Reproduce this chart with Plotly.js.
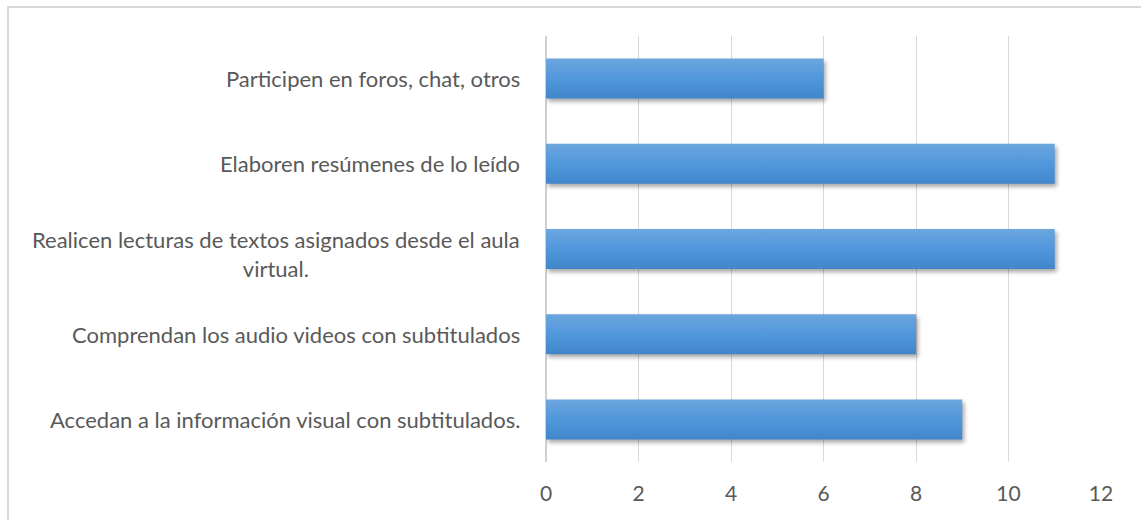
<!DOCTYPE html>
<html>
<head>
<meta charset="utf-8">
<script src="https://cdn.plot.ly/plotly-3.0.1.min.js"></script>
<style>
  html, body { margin: 0; padding: 0; background: #fff; }
  #chart { width: 1141px; height: 520px; position: relative; }
  #frame { position: absolute; left: 7px; top: 6px; width: 1300px; height: 700px;
           border: 2px solid #d9d9d9; pointer-events: none; box-sizing: border-box; }
  .barlayer path { fill: url(#barGrad) !important; filter: drop-shadow(2px 3px 2px rgba(0,0,0,0.35)); }
</style>
</head>
<body>
<div id="chart"></div>
<div id="frame"></div>
<script>
const categories = [
  "Accedan a la información visual con subtitulados.",
  "Comprendan los audio videos con subtitulados",
  "Realicen lecturas de textos asignados desde el aula<br>virtual.",
  "Elaboren resúmenes de lo leído",
  "Participen en foros, chat, otros"
];
const values = [9, 8, 11, 11, 6];
const tickValues = [0, 2, 4, 6, 8, 10, 12];

const fontFamily = "Lato, 'Open Sans', sans-serif";

const trace = {
  type: 'bar',
  orientation: 'h',
  x: values,
  y: categories,
  marker: { color: '#5597d9' },
  hoverinfo: 'x+y'
};

const annotations = categories.map(c => ({
  xref: 'paper', yref: 'y', x: 0, y: c, xshift: -24,
  yshift: c.includes('<br>') ? -5 : 0,
  xanchor: 'right', yanchor: 'middle', align: 'center',
  text: c, showarrow: false,
  font: { family: fontFamily, size: 22, color: '#595959' }
}));

const layout = {
  width: 1141, height: 520,
  margin: { l: 546, r: 40, t: 36, b: 58 },
  paper_bgcolor: '#ffffff', plot_bgcolor: '#ffffff',
  showlegend: false,
  bargap: 0.53,
  xaxis: {
    range: [0, 12], tickvals: tickValues, ticktext: tickValues.map(String),
    showgrid: true, gridcolor: '#d9d9d9', gridwidth: 1,
    zeroline: true, zerolinecolor: '#cfcfcf', zerolinewidth: 2,
    ticks: 'outside', ticklen: 13, tickcolor: 'rgba(0,0,0,0)',
    tickfont: { family: fontFamily, size: 21, color: '#595959' },
    showline: false, fixedrange: true
  },
  yaxis: {
    type: 'category', categoryorder: 'array', categoryarray: categories,
    showticklabels: false, showgrid: false, zeroline: false, showline: false,
    ticks: '', fixedrange: true
  },
  annotations: annotations
};

function applyGradient() {
  const svg = document.querySelector('#chart .main-svg');
  const ns = 'http://www.w3.org/2000/svg';
  if (!document.getElementById('barGrad')) {
    let defs = svg.querySelector('defs');
    if (!defs) { defs = document.createElementNS(ns, 'defs'); svg.insertBefore(defs, svg.firstChild); }
    const g = document.createElementNS(ns, 'linearGradient');
    g.setAttribute('id', 'barGrad');
    g.setAttribute('x1', '0'); g.setAttribute('y1', '0');
    g.setAttribute('x2', '0'); g.setAttribute('y2', '1');
    [['0%', '#6ca6de'], ['50%', '#5197dc'], ['100%', '#4186cb']].forEach(([o, c]) => {
      const s = document.createElementNS(ns, 'stop');
      s.setAttribute('offset', o); s.setAttribute('stop-color', c);
      g.appendChild(s);
    });
    defs.appendChild(g);
  }
  document.querySelectorAll('#chart .barlayer path').forEach(p => {
    p.style.setProperty('fill', 'url(#barGrad)', 'important');
    p.style.setProperty('filter', 'drop-shadow(2px 3px 2px rgba(0,0,0,0.35))');
  });
}

Plotly.newPlot('chart', [trace], layout, { displayModeBar: false, staticPlot: true });
applyGradient();
</script>
</body>
</html>
